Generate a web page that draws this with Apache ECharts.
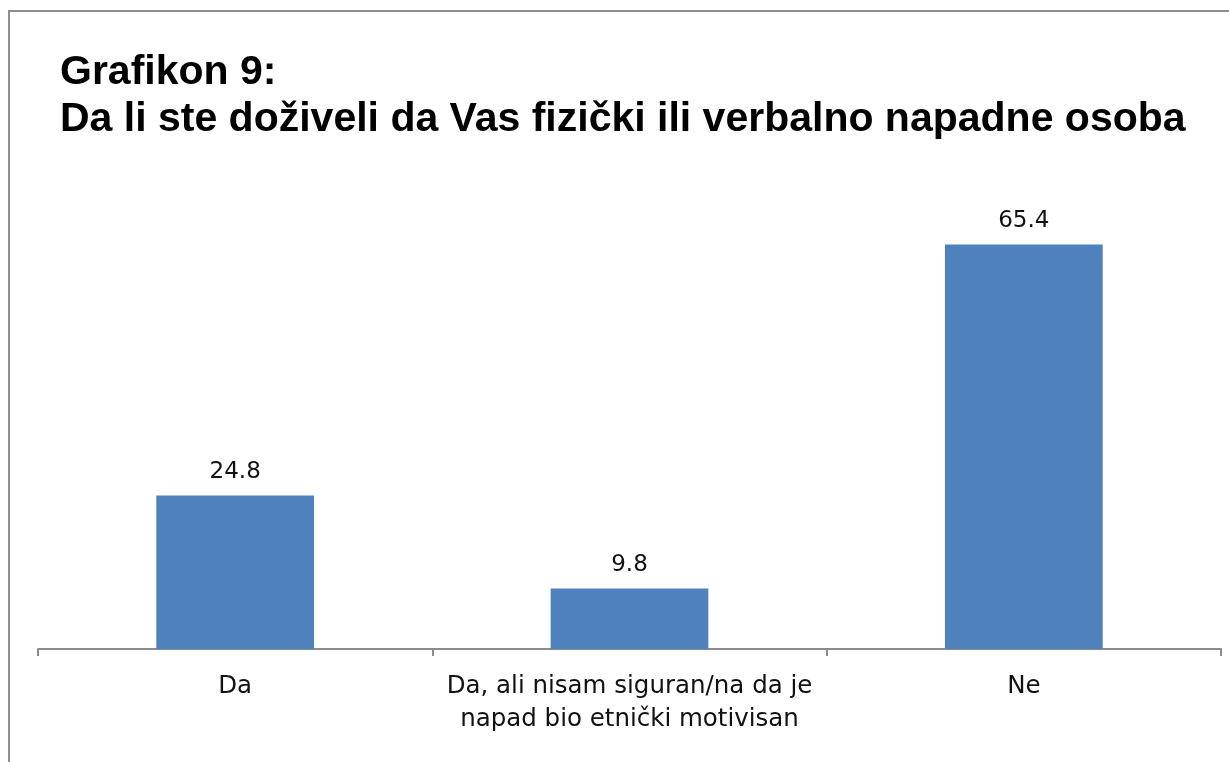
<!DOCTYPE html>
<html>
<head>
<meta charset="utf-8">
<script src="https://cdn.jsdelivr.net/npm/echarts@6/dist/echarts.min.js"></script>
<style>
  html, body { margin: 0; padding: 0; background: #fff; }
  #chart { width: 1229px; height: 762px; }
</style>
</head>
<body>
<div id="chart"></div>
<script>
var categories = ['Da', 'Da, ali nisam siguran/na da je\nnapad bio etnički motivisan', 'Ne'];
var values = [24.8, 9.8, 65.4];

var chart = echarts.init(document.getElementById('chart'));

var option = {
    backgroundColor: '#fff',
    animation: false,
    graphic: [
        {
            type: 'rect',
            shape: { x: 9, y: 11, width: 1300, height: 800 },
            style: { fill: 'none', stroke: '#8e8e8e', lineWidth: 2 }
        }
    ],
    title: {
        text: 'Grafikon 9:\nDa li ste doživeli da Vas fizički ili verbalno napadne osoba',
        left: 55,
        top: 44,
        textStyle: {
            fontFamily: 'Liberation Sans',
            fontWeight: 'bold',
            fontSize: 41,
            lineHeight: 47,
            color: '#000'
        }
    },
    grid: {
        left: 38,
        right: 8,
        top: 216,
        bottom: 113
    },
    xAxis: {
        type: 'category',
        data: categories,
        axisLine: { lineStyle: { color: '#8c8c8c', width: 2 } },
        axisTick: { show: true, length: 7, lineStyle: { color: '#8c8c8c', width: 2 } },
        axisLabel: {
            fontFamily: 'DejaVu Sans',
            fontSize: 24.5,
            color: '#111',
            lineHeight: 33,
            margin: 21,
            interval: 0
        }
    },
    yAxis: {
        type: 'value',
        min: 0,
        max: 70,
        show: false,
        splitLine: { show: false }
    },
    series: [
        {
            type: 'bar',
            data: values,
            barWidth: '40%',
            itemStyle: { color: '#4f81bd' },
            label: {
                show: true,
                position: 'top',
                distance: 12,
                fontFamily: 'DejaVu Sans',
                fontSize: 23,
                color: '#111'
            }
        }
    ]
};

chart.setOption(option);
</script>
</body>
</html>
